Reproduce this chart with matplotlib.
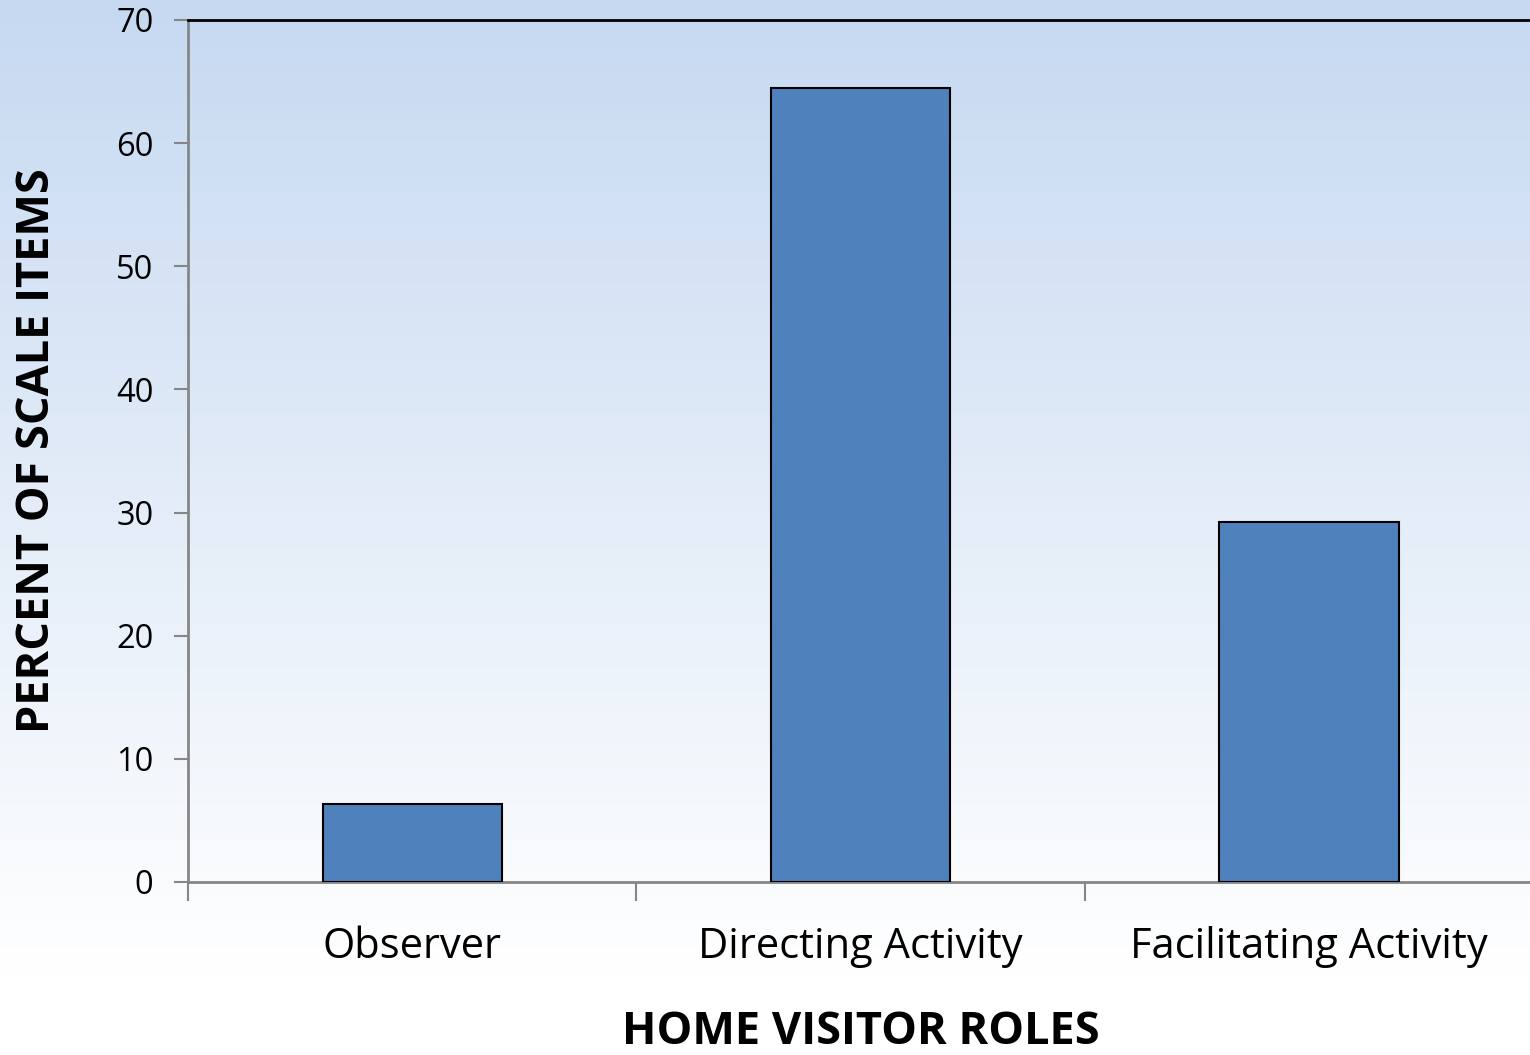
import numpy as np
import matplotlib
matplotlib.use("Agg")
import matplotlib.pyplot as plt

roles = ["Observer", "Directing Activity", "Facilitating Activity"]
percent = [6.3, 64.5, 29.2]
yticks = [0, 10, 20, 30, 40, 50, 60, 70]

plt.rcParams['font.family'] = ['Open Sans', 'DejaVu Sans']

fig = plt.figure(figsize=(15.3, 10.55), dpi=100)

# background gradient, light blue at top fading to white
bg = fig.add_axes([0, 0, 1, 1], zorder=-10)
grad = np.linspace(0, 1, 256).reshape(-1, 1)
top = np.array([198, 217, 241]) / 255.0
bot = np.array([255, 255, 255]) / 255.0
img = top + (bot - top) * np.clip(grad * 1.08, 0, 1)[:, :, None]
bg.imshow(img, aspect='auto', extent=[0, 1, 0, 1])
bg.axis('off')

ax = fig.add_axes([188 / 1530, 1 - 882 / 1055, 1 - 188 / 1530 + 0.002, (882 - 20) / 1055])
ax.set_facecolor('none')

x = np.arange(len(roles))
ax.bar(x, percent, width=0.4, color='#4F81BD', edgecolor='black', linewidth=1.5, zorder=3)

ax.set_xlim(-0.5, 2.5)
ax.set_ylim(0, 70)
ax.set_yticks(yticks)
ax.set_xticks([-0.5, 0.5, 1.5, 2.5])
ax.set_xticklabels([])
ax.set_xticks(x, minor=True)
ax.set_xticklabels(roles, minor=True, fontsize=30)
ax.tick_params(axis='x', which='minor', length=0, pad=32)
ax.tick_params(axis='x', which='major', length=14, width=1.5, color='#868686', direction='out')
ax.tick_params(axis='y', length=10, width=1.5, color='#868686', labelsize=23.5, pad=15)

for s in ['left', 'bottom']:
    ax.spines[s].set_color('#868686')
    ax.spines[s].set_linewidth(2)
ax.spines['top'].set_color('black')
ax.spines['top'].set_linewidth(2)
ax.spines['right'].set_visible(False)

ax.set_xlabel('HOME VISITOR ROLES', fontsize=32.5, fontweight='bold', labelpad=30)
ax.set_ylabel('PERCENT OF SCALE ITEMS', fontsize=32.5, fontweight='bold', labelpad=40)

fig.savefig('out.png', dpi=100)
